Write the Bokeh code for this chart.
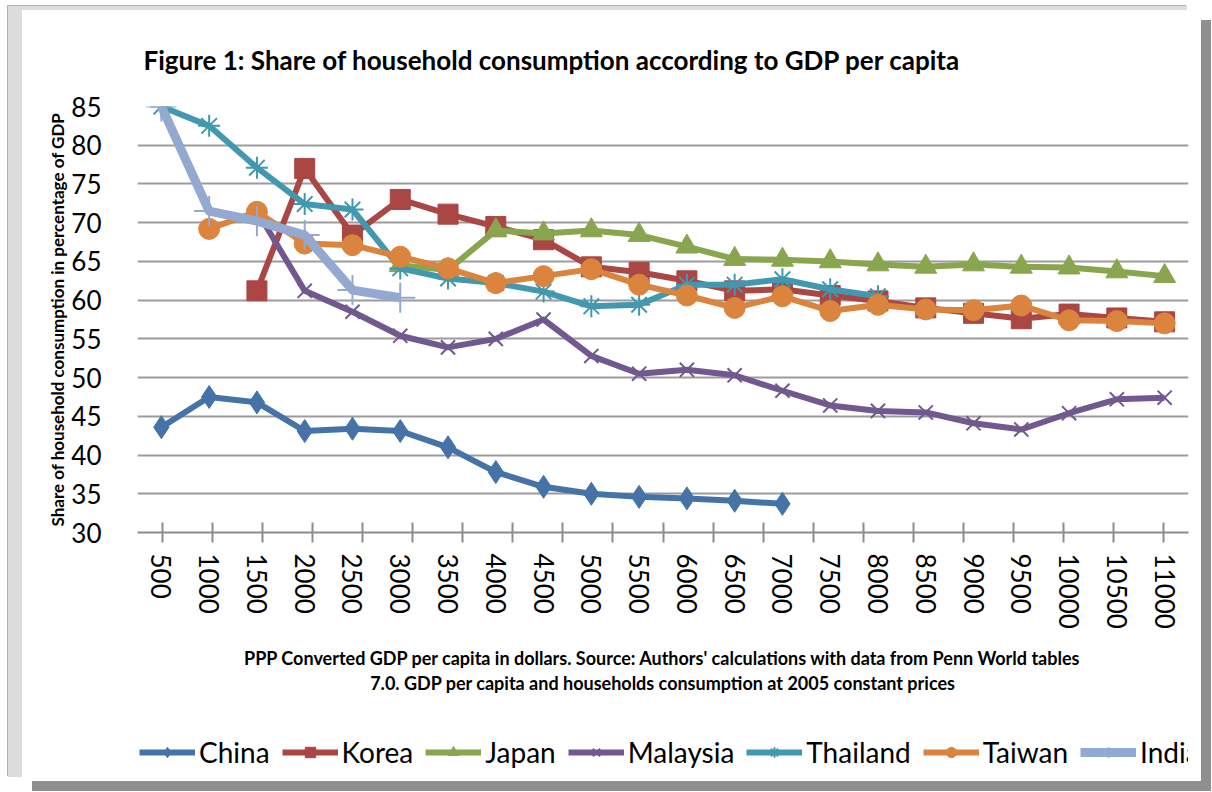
import math
from bokeh.plotting import figure
from bokeh.layouts import column
from bokeh.models import (Range1d, FactorRange, CategoricalAxis, FixedTicker,
                          Legend, LegendItem)
from bokeh.embed import file_html
from bokeh.resources import INLINE

nan = float("nan")

# ---------------- data ----------------
gdp = ["500", "1000", "1500", "2000", "2500", "3000", "3500", "4000", "4500", "5000",
       "5500", "6000", "6500", "7000", "7500", "8000", "8500", "9000", "9500", "10000",
       "10500", "11000"]
y_ticks = [30, 35, 40, 45, 50, 55, 60, 65, 70, 75, 80, 85]

china = [43.6, 47.5, 46.8, 43.1, 43.4, 43.1, 41.0, 37.8, 35.9, 35.0, 34.6, 34.4, 34.1, 33.7,
         nan, nan, nan, nan, nan, nan, nan, nan]
korea = [nan, nan, 61.2, 77.0, 68.4, 73.0, 71.1, 69.5, 67.8, 64.3, 63.6, 62.5, 61.2, 61.4,
         60.6, 59.9, 59.0, 58.3, 57.6, 58.2, 57.7, 57.2]
japan = [nan, nan, nan, nan, nan, 64.5, 63.9, 69.0, 68.6, 69.0, 68.4, 66.9, 65.3, 65.2,
         65.0, 64.6, 64.3, 64.6, 64.3, 64.2, 63.7, 63.1]
malaysia = [nan, nan, 71.5, 61.2, 58.5, 55.4, 53.9, 55.0, 57.5, 52.8, 50.5, 51.0, 50.3, 48.3,
            46.4, 45.7, 45.5, 44.1, 43.3, 45.4, 47.2, 47.4]
thailand = [85.0, 82.5, 77.1, 72.4, 71.7, 64.1, 62.8, 62.2, 61.1, 59.2, 59.4, 62.0, 62.0, 62.7,
            61.4, 60.5, nan, nan, nan, nan, nan, nan]
taiwan = [nan, 69.2, 71.4, 67.3, 67.1, 65.6, 64.1, 62.2, 63.1, 64.0, 62.0, 60.6, 59.0, 60.5,
          58.6, 59.4, 58.8, 58.7, 59.3, 57.4, 57.3, 57.0]
india = [85.0, 71.5, 70.2, 68.4, 61.3, 60.3, nan, nan, nan, nan, nan, nan, nan, nan,
         nan, nan, nan, nan, nan, nan, nan, nan]

series = [
    ("China", china, "#4572A7", "diamond", 23, 6),
    ("Korea", korea, "#AA4643", "square", 20, 6),
    ("Japan", japan, "#89A54E", "triangle", 22, 6),
    ("Malaysia", malaysia, "#71588F", "x", 20, 6),
    ("Thailand", thailand, "#4198AF", "asterisk", 22, 6),
    ("Taiwan", taiwan, "#DB843D", "circle", 21, 6),
    ("India", india, "#93A9CF", "cross", 30, 9),
]

FONT = "Lato"
W = 1179
H_MAIN = 711
H_LEG = 60

# ---------------- main chart ----------------
p = figure(width=W, height=H_MAIN, x_range=FactorRange(*gdp), y_range=Range1d(30, 85),
           x_axis_location=None, output_backend="svg", toolbar_location=None,
           min_border_left=115, min_border_right=13, min_border_top=93,
           min_border_bottom=H_MAIN - 93 - 429)
p.border_fill_color = "white"
p.background_fill_color = "white"
p.outline_line_color = None

p.title.text = "Figure 1: Share of household consumption according to GDP per capita"
p.title.text_font = FONT
p.title.text_font_style = "bold"
p.title.text_font_size = "26px"
p.title.text_color = "black"
p.title.align = "left"
p.title.offset = 6
p.title.standoff = 62

p.yaxis.ticker = FixedTicker(ticks=y_ticks)
p.yaxis.axis_line_color = None
p.yaxis.major_tick_line_color = None
p.yaxis.minor_tick_line_color = None
p.yaxis.major_label_text_font = FONT
p.yaxis.major_label_text_font_size = "26px"
p.yaxis.major_label_text_color = "black"
p.yaxis.major_label_standoff = 30
p.yaxis.axis_label = "Share of household consumption in percentage of GDP"
p.yaxis.axis_label_text_font = FONT
p.yaxis.axis_label_text_font_style = "bold"
p.yaxis.axis_label_text_font_size = "17px"
p.yaxis.axis_label_text_color = "black"
p.yaxis.axis_label_standoff = 0
p.ygrid.grid_line_color = "#9c9c9c"
p.ygrid.grid_line_width = 2
p.ygrid.ticker = FixedTicker(ticks=y_ticks)
p.xgrid.visible = False

# x axis: tick marks at category boundaries (extra factor range shifted by half a
# category) + labels at centres
bounds = ["b%d" % i for i in range(len(gdp) + 1)]
p.extra_x_ranges = {"tk": FactorRange(*bounds, range_padding=-1,
                                      range_padding_units="absolute")}
tick_axis = CategoricalAxis(x_range_name="tk",
                            axis_line_color="#8c8c8c", axis_line_width=2,
                            major_tick_line_color="#8c8c8c", major_tick_line_width=2,
                            major_tick_in=10, major_tick_out=10, minor_tick_line_color=None,
                            major_label_text_font_size="0px", major_label_standoff=0,
                            major_label_overrides={b: "" for b in bounds})
p.add_layout(tick_axis, "below")

cat_axis = CategoricalAxis(axis_line_color=None, major_tick_line_color=None,
                           minor_tick_line_color=None, major_label_orientation="vertical",
                           major_label_text_font=FONT, major_label_text_font_size="26px",
                           major_label_text_color="black", major_label_standoff=5,
                           axis_label="PPP Converted GDP per capita in dollars. Source: Authors' calculations with data from Penn World tables",
                           axis_label_text_font=FONT, axis_label_text_font_style="bold",
                           axis_label_text_font_size="18px", axis_label_text_color="black",
                           axis_label_standoff=15)
p.add_layout(cat_axis, "below")

cap_axis = CategoricalAxis(axis_line_color=None, major_tick_line_color=None,
                           minor_tick_line_color=None, major_label_text_font_size="0px",
                           major_label_standoff=0, major_tick_out=0,
                           major_label_overrides={g: "" for g in gdp},
                           axis_label="7.0. GDP per capita and households consumption at 2005 constant prices",
                           axis_label_text_font=FONT, axis_label_text_font_style="bold",
                           axis_label_text_font_size="18px", axis_label_text_color="black",
                           axis_label_standoff=0)
p.add_layout(cap_axis, "below")

for name, vals, color, marker, size, lw in series:
    p.line(gdp, vals, line_color=color, line_width=lw, line_join="round")
    if marker in ("x", "asterisk", "cross"):
        p.scatter(gdp, vals, marker=marker, size=size, line_color=color,
                  line_width=2, fill_color=color)
    else:
        p.scatter(gdp, vals, marker=marker, size=size, line_color=color,
                  line_width=1, fill_color=color)

# ---------------- legend strip ----------------
pl = figure(width=W, height=H_LEG, x_range=p.x_range, y_range=Range1d(0, 1), title=None,
            x_axis_location=None, y_axis_location=None, toolbar_location=None,
            output_backend="svg", min_border=0)
pl.outline_line_color = None
pl.border_fill_color = "white"
pl.background_fill_color = "white"
pl.grid.visible = False

items = []
for name, vals, color, marker, size, lw in series:
    r1 = pl.line(gdp, vals, line_color=color, line_width=lw)
    if marker in ("x", "asterisk", "cross"):
        r2 = pl.scatter(gdp, vals, marker=marker, size=size, line_color=color,
                        line_width=2, fill_color=color)
    else:
        r2 = pl.scatter(gdp, vals, marker=marker, size=size, line_color=color,
                        line_width=1, fill_color=color)
    items.append(LegendItem(label=name, renderers=[r1, r2]))

legend = Legend(items=items, orientation="horizontal", nrows=1, location=(2, 12),
                label_text_font=FONT, label_text_font_size="28px", label_text_color="black",
                glyph_width=56, glyph_height=26, label_standoff=4, spacing=12,
                padding=0, margin=0, border_line_color=None, background_fill_alpha=0)
pl.add_layout(legend, "center")

layout = column(p, pl, spacing=0)
layout.margin = (10, 0, 0, 22)
layout.styles = {"box-shadow": "-14px -4px 0 0 #dcdcdc, -15px -5px 0 0 #b0b0b0, 10px 10px 0 0 #8f8f8f",
                 "background-color": "white"}

open("out.html", "w").write(file_html(layout, INLINE))
